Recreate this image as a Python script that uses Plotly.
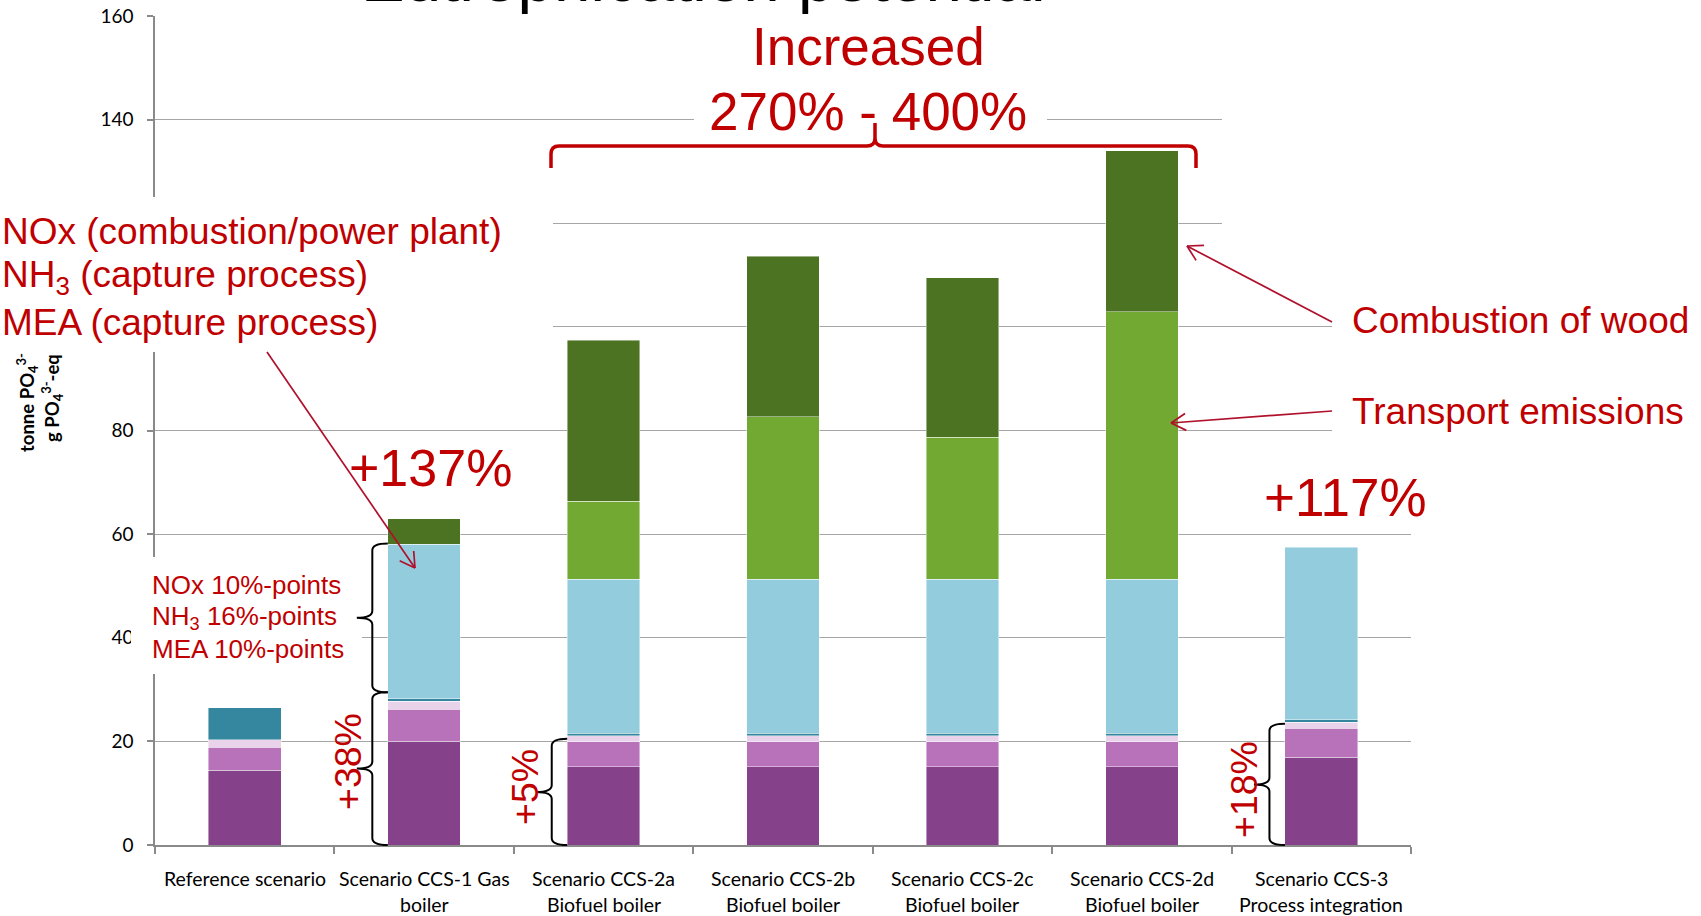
import math
import plotly.graph_objects as go

# ---------------- data ----------------
categories = [
    "Reference scenario",
    "Scenario CCS-1 Gas<br>boiler",
    "Scenario CCS-2a<br>Biofuel boiler",
    "Scenario CCS-2b<br>Biofuel boiler",
    "Scenario CCS-2c<br>Biofuel boiler",
    "Scenario CCS-2d<br>Biofuel boiler",
    "Scenario CCS-3<br>Process integration",
]
plant_operation = [14.4, 20.0, 15.1, 15.1, 15.1, 15.1, 16.9]
fuel_supply = [4.5, 6.2, 4.8, 4.8, 4.8, 4.8, 5.6]
infrastructure = [1.4, 1.5, 1.2, 1.2, 1.2, 1.2, 1.2]
flue_gas_nox = [6.2, 0.5, 0.5, 0.5, 0.5, 0.5, 0.5]
capture_process = [0, 29.8, 29.7, 29.7, 29.7, 29.7, 33.3]
transport_emissions = [0, 0, 15.0, 31.4, 27.4, 51.6, 0]
wood_combustion = [0, 5.0, 31.1, 30.9, 30.8, 31.1, 0]

y_ticks = [0, 20, 40, 60, 80, 100, 120, 140, 160]

series = [
    ("Plant operation", plant_operation, "#854189"),
    ("Fuel supply", fuel_supply, "#B772B9"),
    ("Infrastructure", infrastructure, "#E9D3EB"),
    ("Flue gas NOx", flue_gas_nox, "#34879F"),
    ("Capture process", capture_process, "#93CDDD"),
    ("Transport emissions", transport_emissions, "#71A932"),
    ("Combustion of wood", wood_combustion, "#4B7321"),
]

# ---------------- geometry ----------------
W, H = 1701, 916
PL, PR, PT, PB = 155, 1411, 16, 845
Y_MAX = 160
N = len(categories)
BAR_W = 0.405

RED = "#C00000"
ARROW_RED = "#B0102C"
ARIAL = "Liberation Sans, Arial, sans-serif"
CAL = "Lato, Carlito, Calibri, sans-serif"


def fx(px):
    return (px - PL) / (PR - PL)


def fy(py):
    return (PB - py) / (PB - PT)


def cat_px(x):
    return PL + (x + 0.5) * (PR - PL) / N


def val_py(v):
    return PB - v * (PB - PT) / Y_MAX


def path_from_px(cmds):
    out = []
    for letter, pts in cmds:
        coords = " ".join(f"{fx(x):.5f},{fy(y):.5f}" for x, y in pts)
        out.append(f"{letter} {coords}")
    return " ".join(out)


fig = go.Figure()
x_pos = list(range(N))
for name, vals, color in series:
    fig.add_trace(go.Bar(
        x=x_pos,
        y=[v if v else None for v in vals],
        name=name,
        width=BAR_W,
        marker=dict(color=color, line=dict(color="rgba(255,255,255,0.55)", width=0.8)),
        hoverinfo="skip",
    ))

shapes = []

# white backing panels behind the callout texts
def white_box(x0, y0, x1, y1):
    shapes.append(dict(type="rect", xref="paper", yref="paper",
                       x0=fx(x0), x1=fx(x1), y0=fy(y1), y1=fy(y0),
                       fillcolor="white", line=dict(width=0), layer="above"))


white_box(342, -8, 1058, 24)      # chart title
white_box(0, 197, 553, 352)       # NOx / NH3 / MEA list
white_box(131, 557, 362, 674)     # %-points list
white_box(694, 85, 1047, 140)     # 270% - 400%
white_box(1222, 95, 1470, 250)
white_box(1332, 285, 1701, 450)   # wood / transport labels


# curly braces to the left of a bar
def brace(i, v0, v1, depth=31, r=7):
    xe = cat_px(i - BAR_W / 2)
    xv = xe - depth / 2
    xt = xe - depth
    yt, yb = val_py(v1), val_py(v0)
    ym = (yt + yb) / 2
    cmds = [
        ("M", [(xe, yt)]),
        ("Q", [(xv, yt), (xv, yt + r)]),
        ("L", [(xv, ym - r)]),
        ("Q", [(xv, ym), (xt, ym)]),
        ("Q", [(xv, ym), (xv, ym + r)]),
        ("L", [(xv, yb - r)]),
        ("Q", [(xv, yb), (xe, yb)]),
    ]
    shapes.append(dict(type="path", xref="paper", yref="paper",
                       path=path_from_px(cmds), line=dict(color="black", width=2),
                       fillcolor="rgba(0,0,0,0)", layer="above"))


brace(1, 0, 29.5)
brace(1, 29.5, 58.2)
brace(2, 0, 20.5)
brace(6, 0, 23.4)

# red bracket spanning the biofuel scenarios
xl, xr, xm, yh, ye, ytip, rr = 551, 1196, 875, 146, 168, 123, 8
bracket = [
    ("M", [(xl, ye)]),
    ("L", [(xl, yh + rr)]),
    ("Q", [(xl, yh), (xl + rr, yh)]),
    ("L", [(xm - rr, yh)]),
    ("Q", [(xm, yh), (xm, yh - rr)]),
    ("L", [(xm, ytip)]),
    ("L", [(xm, yh - rr)]),
    ("Q", [(xm, yh), (xm + rr, yh)]),
    ("L", [(xr - rr, yh)]),
    ("Q", [(xr, yh), (xr, yh + rr)]),
    ("L", [(xr, ye)]),
]
shapes.append(dict(type="path", xref="paper", yref="paper", path=path_from_px(bracket),
                   line=dict(color=RED, width=3.5), fillcolor="rgba(0,0,0,0)", layer="above"))


# thin open-headed arrows
def arrow(tail, head, length=17, angle=30):
    segs = [(tail, head)]
    dx, dy = tail[0] - head[0], tail[1] - head[1]
    d = math.hypot(dx, dy)
    ux, uy = dx / d, dy / d
    for s in (1, -1):
        a = math.radians(angle * s)
        vx = ux * math.cos(a) - uy * math.sin(a)
        vy = ux * math.sin(a) + uy * math.cos(a)
        segs.append((head, (head[0] + vx * length, head[1] + vy * length)))
    for (x0, y0), (x1, y1) in segs:
        shapes.append(dict(type="line", xref="paper", yref="paper",
                           x0=fx(x0), y0=fy(y0), x1=fx(x1), y1=fy(y1),
                           line=dict(color=ARROW_RED, width=1.7), layer="above"))


arrow((267, 352), (415, 568))
arrow((1332, 322), (1187, 246))
arrow((1332, 411), (1171, 423))

annotations = []


def label(text, px, py, size, color=RED, family=ARIAL, xanchor="center", angle=0):
    annotations.append(dict(
        text=text, xref="paper", yref="paper", x=fx(px), y=fy(py),
        xanchor=xanchor, yanchor="middle", showarrow=False, textangle=angle,
        font=dict(family=family, size=size, color=color),
        borderpad=0, borderwidth=0,
    ))


# title (mostly above the page edge)
label("Eutrophication potential", 703, -22, 65.5, color="black")

# category labels under the axis
for i, cat in enumerate(categories):
    for j, line in enumerate(cat.split("<br>")):
        label(line, cat_px(i), 878 + 26 * j, 19.5, color="black", family=CAL)

# y-axis titles
label("<b>tonne PO<sub>4</sub><sup>3-</sup></b>", 27, 403, 18.5, color="black", family=CAL, angle=-90)
label("<b>g PO<sub>4</sub><sup>3-</sup>-eq</b>", 52, 398, 18.5, color="black", family=CAL, angle=-90)

# callouts
label("Increased", 868, 47, 53)
label("270% - 400%", 868, 112, 53)
label("+137%", 430, 468, 52)
label("+117%", 1345, 497, 53)
label("NOx (combustion/power plant)", 2, 231, 37, xanchor="left")
label("NH<sub>3</sub> (capture process)", 2, 277, 37, xanchor="left")
label("MEA (capture process)", 2, 322, 37, xanchor="left")
label("NOx 10%-points", 152, 585, 26, xanchor="left")
label("NH<sub>3</sub> 16%-points", 152, 617, 26, xanchor="left")
label("MEA 10%-points", 152, 649, 26, xanchor="left")
label("Combustion of wood", 1352, 320, 37, xanchor="left")
label("Transport emissions", 1352, 411, 37, xanchor="left")
label("+38%", 348, 762, 37.5, angle=-90)
label("+5%", 525, 787, 37.5, angle=-90)
label("+18%", 1244, 790, 37.5, angle=-90)

AXIS_GREY = "#8A8A8A"
fig.update_layout(
    width=W, height=H,
    margin=dict(l=PL, r=W - PR, t=PT, b=H - PB, pad=0, autoexpand=False),
    paper_bgcolor="white", plot_bgcolor="white",
    barmode="stack", showlegend=False,
    font=dict(family=CAL, color="black"),
    shapes=shapes, annotations=annotations,
    xaxis=dict(
        range=[-0.5, N - 0.5], tickmode="array",
        tickvals=[i - 0.5 for i in range(N + 1)],
        showticklabels=False, ticks="outside", ticklen=7, tickwidth=1.5, tickcolor=AXIS_GREY,
        showline=True, linecolor=AXIS_GREY, linewidth=1.5,
        showgrid=False, zeroline=False, fixedrange=True, automargin=False,
    ),
    yaxis=dict(
        range=[0, Y_MAX], tickmode="array", tickvals=y_ticks,
        ticks="outside", ticklen=6, tickwidth=1.5, tickcolor=AXIS_GREY,
        showline=True, linecolor=AXIS_GREY, linewidth=1.5,
        showgrid=True, gridcolor="#A6A6A6", gridwidth=1.3, zeroline=False,
        tickfont=dict(family=CAL, size=19, color="black"), ticklabelstandoff=10,
        fixedrange=True, automargin=False,
    ),
)

fig.write_html("out.html", config={"displayModeBar": False})
